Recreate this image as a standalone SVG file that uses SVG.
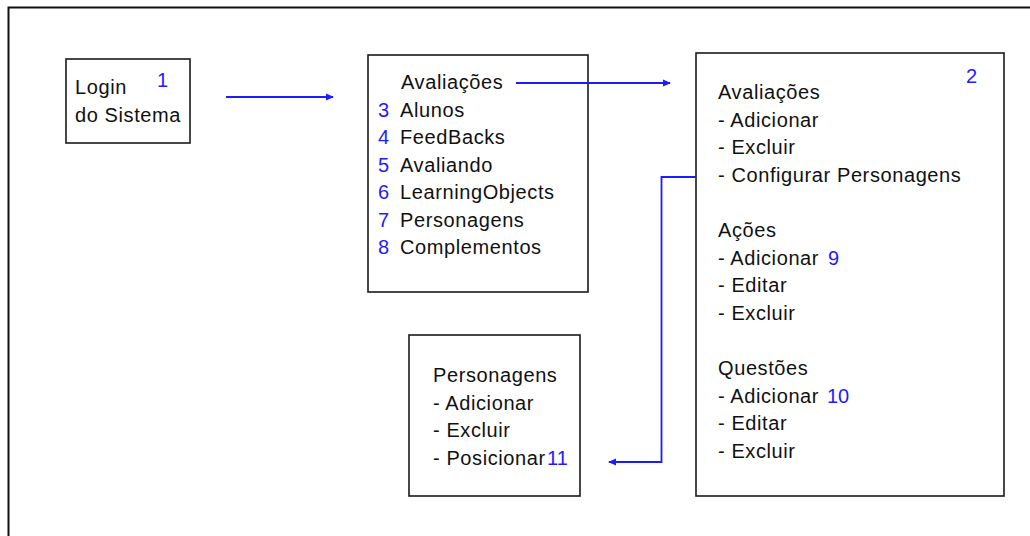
<svg xmlns="http://www.w3.org/2000/svg" width="1030" height="536" viewBox="0 0 1030 536">
<style>
.t{font-family:"Liberation Sans",Arial,sans-serif;font-size:20px;letter-spacing:0.6px;fill:#111}
.n{font-family:"Liberation Sans",Arial,sans-serif;font-size:20px;fill:#1c1cff}
.box{fill:#fff;stroke:#1a1a1a;stroke-width:1.6}
.conn{fill:none;stroke:#1c1cff;stroke-width:1.8}
</style>
<defs>
<marker id="ah" viewBox="0 0 8 8" refX="7" refY="4" markerWidth="8" markerHeight="8" markerUnits="userSpaceOnUse" orient="auto">
<path d="M0,0.5 L8,4 L0,7.5 Z" fill="#1c1cff"/>
</marker>
</defs>
<rect width="1030" height="536" fill="#fff"/>
<path d="M8.5,536 L8.5,7.5 L1030,7.5" fill="none" stroke="#111" stroke-width="2"/>
<g id="login">
<rect class="box" x="66" y="59" width="124" height="84"/>
<text class="t" x="75" y="94">Login</text>
<text class="t" x="75" y="122">do Sistema</text>
<text class="n" x="157" y="87">1</text>
</g>
<g id="menu">
<rect class="box" x="368" y="55" width="220" height="237"/>
<text class="t" x="401" y="89">Avaliações</text>
<text class="n" x="378" y="116.5">3</text><text class="t" x="400" y="116.5">Alunos</text>
<text class="n" x="378" y="144">4</text><text class="t" x="400" y="144">FeedBacks</text>
<text class="n" x="378" y="171.5">5</text><text class="t" x="400" y="171.5">Avaliando</text>
<text class="n" x="378" y="199">6</text><text class="t" x="400" y="199">LearningObjects</text>
<text class="n" x="378" y="226.5">7</text><text class="t" x="400" y="226.5">Personagens</text>
<text class="n" x="378" y="254">8</text><text class="t" x="400" y="254">Complementos</text>
</g>
<g id="avaliacoes">
<rect class="box" x="696" y="53" width="308" height="443"/>
<text class="n" x="966" y="83">2</text>
<text class="t" x="718" y="99">Avaliações</text>
<text class="t" x="718" y="126.6">- Adicionar</text>
<text class="t" x="718" y="154.2">- Excluir</text>
<text class="t" x="718" y="181.8">- Configurar Personagens</text>
<text class="t" x="718" y="237">Ações</text>
<text class="t" x="718" y="264.6">- Adicionar</text><text class="n" x="828" y="264.6">9</text>
<text class="t" x="718" y="292.2">- Editar</text>
<text class="t" x="718" y="319.8">- Excluir</text>
<text class="t" x="718" y="375">Questões</text>
<text class="t" x="718" y="402.6">- Adicionar</text><text class="n" x="827" y="402.6">10</text>
<text class="t" x="718" y="430.2">- Editar</text>
<text class="t" x="718" y="457.8">- Excluir</text>
</g>
<g id="personagens">
<rect class="box" x="409" y="335" width="171" height="161"/>
<text class="t" x="433" y="382">Personagens</text>
<text class="t" x="433" y="409.6">- Adicionar</text>
<text class="t" x="433" y="437.2">- Excluir</text>
<text class="t" x="433" y="464.8">- Posicionar</text><text class="n" x="547" y="464.8">11</text>
</g>
<g id="connectors">
<path class="conn" d="M226,97 L333,97" marker-end="url(#ah)"/>
<path class="conn" d="M516,83 L670,83" marker-end="url(#ah)"/>
<path class="conn" d="M696,177 L661.5,177 L661.5,462 L609,462" marker-end="url(#ah)"/>
</g>
</svg>
